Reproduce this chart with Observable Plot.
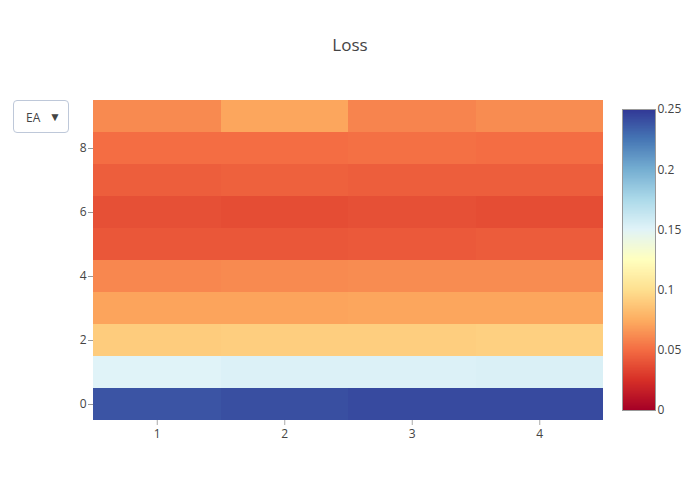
<!DOCTYPE html>
<html>
<head>
<meta charset="utf-8">
<script src="https://cdn.jsdelivr.net/npm/d3@7"></script>
<script src="https://cdn.jsdelivr.net/npm/@observablehq/plot@0.6"></script>
<style>
  html, body { margin: 0; padding: 0; background: #fff; }
  #wrap { position: relative; width: 700px; height: 500px; font-family: "Open Sans", sans-serif; color: #444; }
  #title { position: absolute; left: 0; width: 700px; top: 33px; text-align: center; font-size: 17px; color: #444; }
  #dropdown { position: absolute; left: 13px; top: 100px; width: 56px; height: 33px; border: 1px solid #bec8d9; border-radius: 4px; box-sizing: border-box; background: #fff; font-size: 12px; color: #444; }
  #dropdown .lab { position: absolute; left: 12px; top: 8px; }
  #dropdown .arr { position: absolute; right: 7px; top: 7px; font-size: 12px; }
  #main { position: absolute; left: 0; top: 0; }
  #cbar { position: absolute; left: 610px; top: 100px; }
</style>
</head>
<body>
<div id="wrap">
  <div id="main"></div>
  <div id="cbar"></div>
  <div id="title">Loss</div>
  <div id="dropdown"><span class="lab">EA</span><span class="arr">▼</span></div>
</div>
<script>
const xs = [1, 2, 3, 4];
const ys = [0, 1, 2, 3, 4, 5, 6, 7, 8, 9];
// z[row y][column x]
const z = [
  [0.238, 0.240, 0.242, 0.242],
  [0.150, 0.152, 0.152, 0.153],
  [0.090, 0.091, 0.091, 0.092],
  [0.071, 0.071, 0.072, 0.072],
  [0.060, 0.061, 0.062, 0.062],
  [0.041, 0.041, 0.042, 0.043],
  [0.038, 0.037, 0.038, 0.037],
  [0.044, 0.045, 0.044, 0.044],
  [0.050, 0.050, 0.051, 0.050],
  [0.061, 0.072, 0.059, 0.062]
];
const xTicks = [1, 2, 3, 4];
const yTicks = [0, 2, 4, 6, 8];
const cTicks = [0, 0.05, 0.1, 0.15, 0.2, 0.25];
const cDomain = [0, 0.25];
const cStops = ["rgb(165,0,38)", "rgb(215,48,39)", "rgb(244,109,67)", "rgb(253,174,97)", "rgb(254,224,144)", "rgb(255,255,191)", "rgb(224,243,248)", "rgb(171,217,233)", "rgb(116,173,209)", "rgb(69,117,180)", "rgb(49,54,149)"];

const cells = [];
ys.forEach((y, i) => xs.forEach((x, j) => cells.push({x, y, v: z[i][j]})));

const color = {
  type: "linear",
  domain: cStops.map((_, i) => cDomain[0] + (cDomain[1] - cDomain[0]) * i / (cStops.length - 1)),
  range: cStops,
  interpolate: "rgb"
};

const main = Plot.plot({
  width: 700, height: 500,
  marginLeft: 93, marginRight: 97, marginTop: 100, marginBottom: 80,
  style: {fontFamily: "Open Sans, sans-serif", fontSize: "12px", color: "#444", background: "transparent"},
  x: {domain: [0.5, 4.5]},
  y: {domain: [-0.5, 9.5]},
  color,
  marks: [
    Plot.rect(cells, {x1: d => d.x - 0.5, x2: d => d.x + 0.5, y1: d => d.y - 0.5, y2: d => d.y + 0.5, fill: "v", inset: 0, shapeRendering: "crispEdges"}),
    Plot.axisX({ticks: xTicks, tickFormat: d => String(d), tickSize: 5, tickPadding: 4, stroke: "#aaa", fill: "#444", label: null}),
    Plot.axisY({ticks: yTicks, tickFormat: d => String(d), tickSize: 5, tickPadding: 2, stroke: "#999", fill: "#444", label: null})
  ]
});
document.getElementById("main").appendChild(main);

const step = 0.0005;
const ramp = d3.range(cDomain[0], cDomain[1], step).map(v => ({v}));
const cbar = Plot.plot({
  width: 80, height: 320,
  marginLeft: 12, marginRight: 35, marginTop: 9, marginBottom: 10,
  style: {fontFamily: "Open Sans, sans-serif", fontSize: "12px", color: "#444", background: "transparent"},
  x: {domain: [0, 1], axis: null},
  y: {domain: cDomain},
  color,
  marks: [
    Plot.rect(ramp, {x1: 0, x2: 1, y1: "v", y2: d => Math.min(d.v + step * 1.5, cDomain[1]), fill: "v", inset: 0, shapeRendering: "crispEdges"}),
    Plot.frame({stroke: "#999", strokeWidth: 1}),
    Plot.axisY({anchor: "right", ticks: cTicks, tickFormat: d => String(d), tickSize: 0, tickPadding: 2, fill: "#444", label: null})
  ]
});
document.getElementById("cbar").appendChild(cbar);
</script>
</body>
</html>
